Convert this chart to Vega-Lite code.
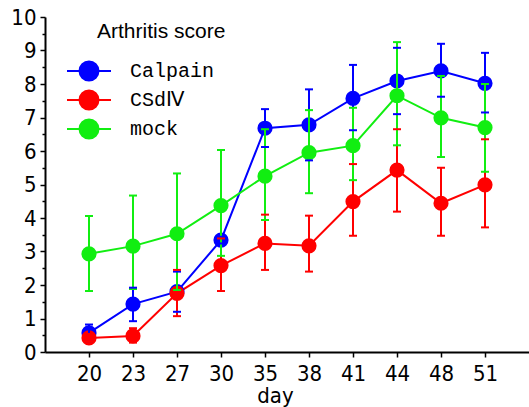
{
  "$schema": "https://vega.github.io/schema/vega-lite/v6.json",
  "width": 484,
  "height": 335,
  "autosize": "none",
  "padding": {"left": 45, "top": 17, "right": 0, "bottom": 55},
  "background": "white",
  "config": {
    "view": {"stroke": null},
    "axis": {"grid": false, "domainColor": "black", "tickColor": "black", "labelColor": "black", "titleColor": "black", "domainWidth": 2, "tickWidth": 1.5}
  },
  "title": {
    "text": "Arthritis score",
    "orient": "top",
    "anchor": "start",
    "frame": "group",
    "font": "Liberation Sans",
    "fontSize": 21,
    "fontWeight": "normal",
    "color": "black",
    "baseline": "middle",
    "dx": 52,
    "dy": 51
  },
  "data": {
    "values": [
      {"series": "Calpain", "day": 20, "mean": 0.57, "lo": 0.3, "hi": 0.82},
      {"series": "Calpain", "day": 23, "mean": 1.43, "lo": 0.92, "hi": 1.92},
      {"series": "Calpain", "day": 27, "mean": 1.8, "lo": 1.2, "hi": 2.4},
      {"series": "Calpain", "day": 30, "mean": 3.34, "lo": 3.24, "hi": 3.44},
      {"series": "Calpain", "day": 35, "mean": 6.68, "lo": 6.12, "hi": 7.25},
      {"series": "Calpain", "day": 38, "mean": 6.78, "lo": 5.72, "hi": 7.84},
      {"series": "Calpain", "day": 41, "mean": 7.57, "lo": 6.62, "hi": 8.57},
      {"series": "Calpain", "day": 44, "mean": 8.09, "lo": 7.1, "hi": 9.08},
      {"series": "Calpain", "day": 48, "mean": 8.39, "lo": 7.62, "hi": 9.2},
      {"series": "Calpain", "day": 51, "mean": 8.02, "lo": 7.15, "hi": 8.93},
      {"series": "CSdⅣ", "day": 20, "mean": 0.42, "lo": 0.3, "hi": 0.54},
      {"series": "CSdⅣ", "day": 23, "mean": 0.48, "lo": 0.28, "hi": 0.71},
      {"series": "CSdⅣ", "day": 27, "mean": 1.75, "lo": 1.07, "hi": 2.45},
      {"series": "CSdⅣ", "day": 30, "mean": 2.58, "lo": 1.82, "hi": 3.39},
      {"series": "CSdⅣ", "day": 35, "mean": 3.24, "lo": 2.45, "hi": 4.1},
      {"series": "CSdⅣ", "day": 38, "mean": 3.17, "lo": 2.4, "hi": 4.07},
      {"series": "CSdⅣ", "day": 41, "mean": 4.49, "lo": 3.47, "hi": 5.61},
      {"series": "CSdⅣ", "day": 44, "mean": 5.43, "lo": 4.19, "hi": 6.65},
      {"series": "CSdⅣ", "day": 48, "mean": 4.44, "lo": 3.47, "hi": 5.5},
      {"series": "CSdⅣ", "day": 51, "mean": 4.99, "lo": 3.72, "hi": 6.35},
      {"series": "mock", "day": 20, "mean": 2.93, "lo": 1.82, "hi": 4.06},
      {"series": "mock", "day": 23, "mean": 3.16, "lo": 1.88, "hi": 4.67},
      {"series": "mock", "day": 27, "mean": 3.53, "lo": 1.85, "hi": 5.33},
      {"series": "mock", "day": 30, "mean": 4.37, "lo": 2.87, "hi": 6.03},
      {"series": "mock", "day": 35, "mean": 5.25, "lo": 3.94, "hi": 6.65},
      {"series": "mock", "day": 38, "mean": 5.95, "lo": 4.74, "hi": 7.22},
      {"series": "mock", "day": 41, "mean": 6.16, "lo": 5.13, "hi": 7.29},
      {"series": "mock", "day": 44, "mean": 7.65, "lo": 6.17, "hi": 9.25},
      {"series": "mock", "day": 48, "mean": 6.99, "lo": 5.82, "hi": 8.24},
      {"series": "mock", "day": 51, "mean": 6.7, "lo": 5.38, "hi": 8.0}
    ]
  },
  "encoding": {
    "x": {
      "field": "day",
      "type": "ordinal",
      "scale": {"type": "point", "padding": 1.26},
      "axis": {
        "labelAngle": 0,
        "labelFont": "Liberation Sans Narrow, DejaVu Sans Condensed, Liberation Sans",
        "labelFontSize": 22,
        "labelPadding": 6,
        "tickSize": 5,
        "title": "day",
        "titleFont": "Liberation Sans Narrow, DejaVu Sans Condensed, Liberation Sans",
        "titleFontSize": 22,
        "titleFontWeight": "normal",
        "titlePadding": 1,
        "titleX": 230
      }
    },
    "y": {
      "field": "mean",
      "type": "quantitative",
      "scale": {"domain": [0, 10], "nice": false},
      "axis": {
        "values": [0, 0.5, 1, 1.5, 2, 2.5, 3, 3.5, 4, 4.5, 5, 5.5, 6, 6.5, 7, 7.5, 8, 8.5, 9, 9.5, 10],
        "labelExpr": "datum.value % 1 === 0 ? format(datum.value, 'd') : ''",
        "labelOverlap": false,
        "tickSize": {"condition": {"test": "datum.value % 1 !== 0", "value": 3}, "value": 5},
        "labelFont": "Liberation Sans Narrow, DejaVu Sans Condensed, Liberation Sans",
        "labelFontSize": 22,
        "labelPadding": 4,
        "title": null
      }
    },
    "color": {
      "field": "series",
      "type": "nominal",
      "scale": {"domain": ["Calpain", "CSdⅣ", "mock"], "range": ["#0000ff", "#ff0000", "#11ee11"]},
      "legend": {
        "orient": "none",
        "legendX": 33,
        "legendY": 43,
        "title": null,
        "padding": 0,
        "symbolType": "M-2.2,0H2.2M0.95,0A0.95,0.95,0,1,1,-0.95,0A0.95,0.95,0,1,1,0.95,0Z",
        "symbolSize": 400,
        "symbolStrokeWidth": 2,
        "symbolOpacity": 1,
        "labelFont": "Liberation Mono",
        "labelFontSize": 20,
        "labelColor": "black",
        "labelOffset": 30,
        "rowPadding": 1,
        "encode": {"symbols": {"update": {"stroke": {"scale": "color", "field": "value"}, "fill": {"scale": "color", "field": "value"}, "opacity": {"value": 1}}}}
      }
    }
  },
  "layer": [
    {
      "mark": {"type": "line", "strokeWidth": 2}
    },
    {
      "mark": {"type": "point", "filled": true, "size": 230, "opacity": 1}
    },
    {
      "mark": {"type": "rule", "strokeWidth": 2},
      "encoding": {
        "y": {"field": "lo", "type": "quantitative"},
        "y2": {"field": "hi"}
      }
    },
    {
      "mark": {"type": "tick", "size": 8, "thickness": 2, "opacity": 1},
      "encoding": {
        "y": {"field": "lo", "type": "quantitative"}
      }
    },
    {
      "mark": {"type": "tick", "size": 8, "thickness": 2, "opacity": 1},
      "encoding": {
        "y": {"field": "hi", "type": "quantitative"}
      }
    }
  ]
}
